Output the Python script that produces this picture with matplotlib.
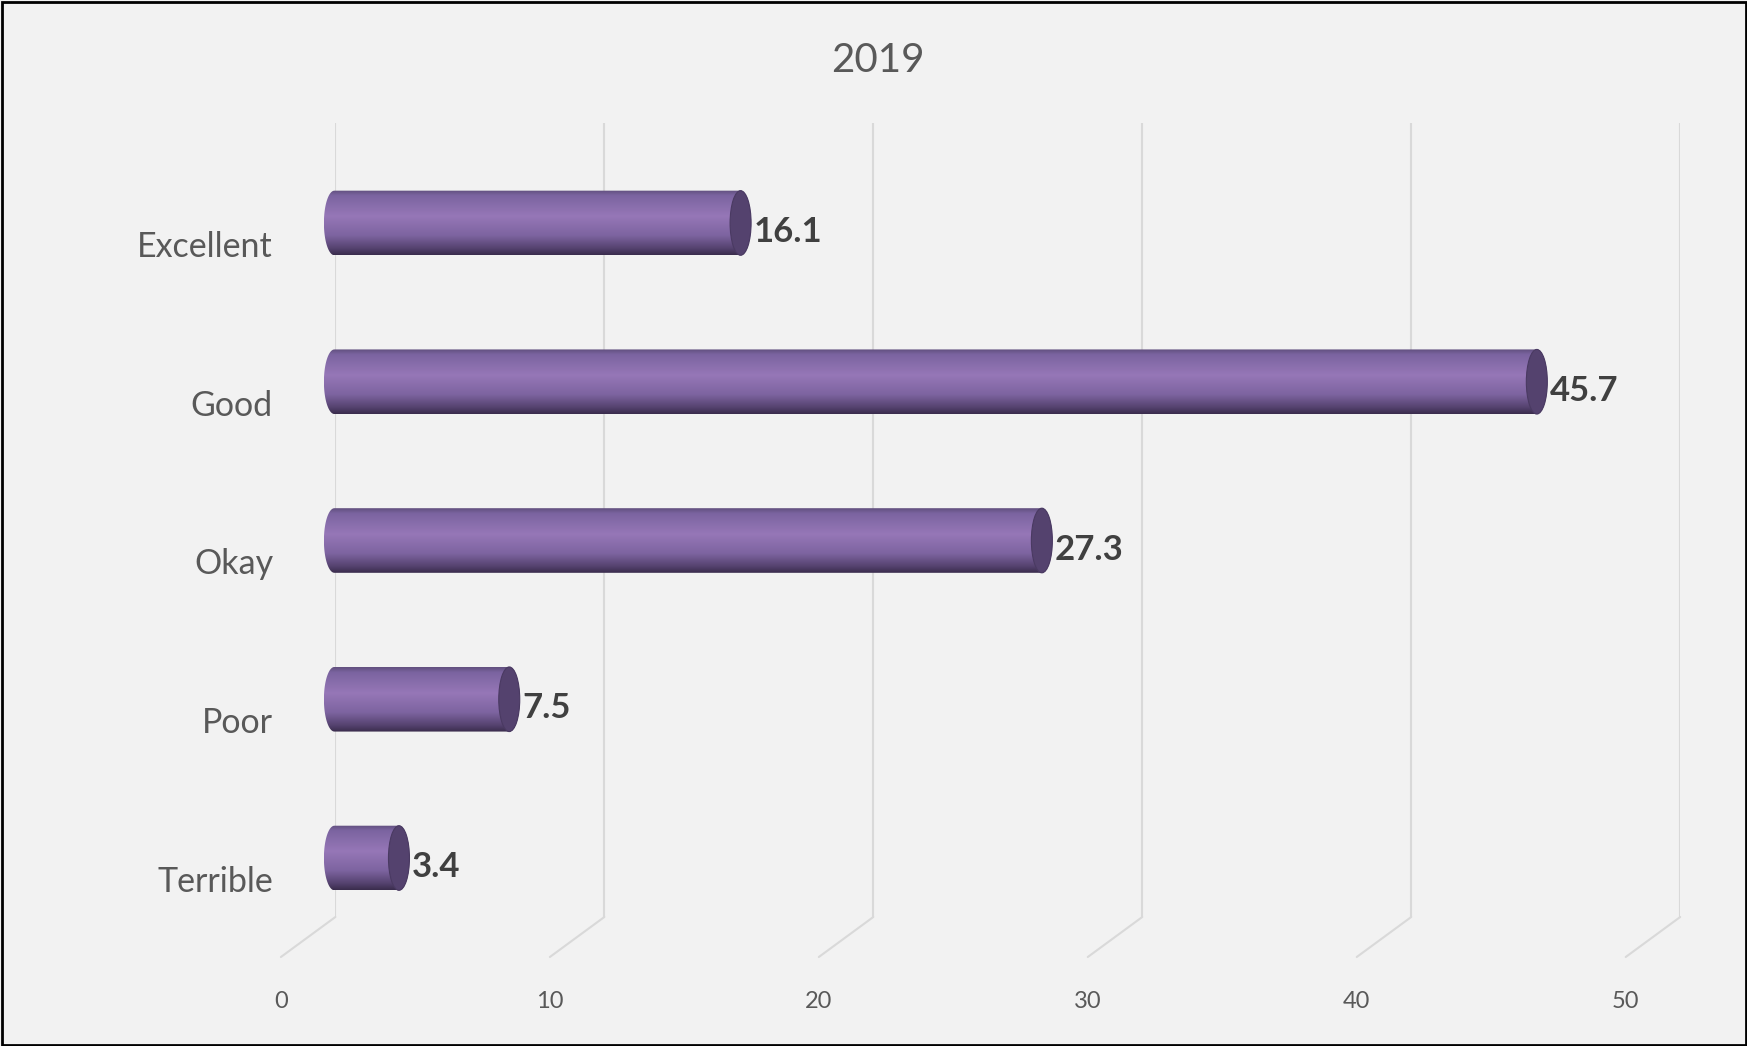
import matplotlib.pyplot as plt
import numpy as np
from matplotlib.path import Path
from matplotlib.patches import PathPatch, Ellipse, Rectangle
from matplotlib.colors import LinearSegmentedColormap

categories = ["Excellent", "Good", "Okay", "Poor", "Terrible"]
values = [16.1, 45.7, 27.3, 7.5, 3.4]
ticks = [0, 10, 20, 30, 40, 50]
title = "2019"

W, H = 1747, 1046
DPI = 100
PT = DPI / 72.0  # pixels per point

plt.rcParams['font.family'] = ['Lato', 'DejaVu Sans']

fig = plt.figure(figsize=(W / DPI, H / DPI), dpi=DPI, facecolor='#f2f2f2')

def rect(x0, y0, x1, y1):
    # pixel box (top-left origin) -> figure fraction
    return [x0 / W, 1 - y1 / H, (x1 - x0) / W, (y1 - y0) / H]

# back wall with the vertical gridlines
ax_back = fig.add_axes(rect(335.4, 122.6, 1680.2, 917))
ax_back.set_xlim(0, 50)
ax_back.set_ylim(0, 1)
ax_back.axis('off')
grid_col = '#d9d9d9'
for t in ticks:
    ax_back.axvline(t, color=grid_col, lw=1.5)
    # floor line going forward from the wall
    ax_back.annotate('', xy=(t, 0), xytext=(-54.5 / PT, -40 / PT),
                     textcoords='offset points',
                     arrowprops=dict(arrowstyle='-', color=grid_col, lw=1.5,
                                     shrinkA=0, shrinkB=0))
    ax_back.annotate(str(t), xy=(t, 0), xytext=(-54.5 / PT, -85 / PT),
                     textcoords='offset points', ha='center', va='center',
                     fontsize=17, color='#595959', annotation_clip=False)

# bars, drawn in front of the wall
ax = fig.add_axes(rect(307.5, 143.6, 307.5 + 50 * 26.9, 937.4))
ax.set_xlim(0, 50)
ax.set_ylim(len(categories) - 0.5, -0.5)
ax.axis('off')
ax.patch.set_alpha(0)

bar_h = 0.407
wall = 1.0           # where the cylinders come out of the left wall
rx = 10.5 / 26.9     # horizontal radius of the end caps

cyl = LinearSegmentedColormap.from_list('cyl', [
    (0.00, '#62507f'), (0.08, '#7b64a0'), (0.40, '#9677b7'),
    (0.70, '#7d64a0'), (0.90, '#55426f'), (1.00, '#3a2d4d')])
grad = np.linspace(0, 1, 200).reshape(-1, 1)

for i, (cat, v) in enumerate(zip(categories, values)):
    top, bot = i - bar_h / 2, i + bar_h / 2
    th_l = np.linspace(np.pi / 2, 3 * np.pi / 2, 40)
    th_r = np.linspace(-np.pi / 2, np.pi / 2, 40)
    left = np.column_stack([wall + rx * np.cos(th_l), i - (bar_h / 2) * np.sin(th_l)])
    right = np.column_stack([v + rx * np.cos(th_r), i - (bar_h / 2) * np.sin(th_r)])
    verts = np.vstack([left, right, left[:1]])
    codes = [Path.MOVETO] + [Path.LINETO] * (len(verts) - 2) + [Path.CLOSEPOLY]
    body = PathPatch(Path(verts, codes), facecolor='none', edgecolor='none')
    ax.add_patch(body)
    im = ax.imshow(grad, cmap=cyl, aspect='auto', interpolation='bilinear',
                   extent=[wall - rx, v + rx, bot, top], zorder=2)
    im.set_clip_path(body)
    ax.add_patch(Ellipse((v, i), 2 * rx, bar_h, facecolor='#54426e',
                         edgecolor='#4a3a62', lw=0.8, zorder=3))

    ax.annotate(f"{v}", xy=(v, i), xytext=(13 / PT, -9 / PT),
                textcoords='offset points', ha='left', va='center',
                fontsize=25, fontweight='bold', color='#404040', zorder=4)
    ax.annotate(cat, xy=(0, i), xycoords=('axes fraction', 'data'),
                xytext=(-34.5 / PT, -24 / PT), textcoords='offset points',
                ha='right', va='center', fontsize=24.5, color='#595959')

fig.text(878 / W, 1 - 60 / H, title, ha='center', va='center',
         fontsize=29, color='#595959')

fig.patches.append(Rectangle((1.5 / W, 1.5 / H), 1 - 3 / W, 1 - 3 / H,
                             transform=fig.transFigure, fill=False,
                             edgecolor='black', lw=2))

fig.savefig('out.png', dpi=DPI, facecolor=fig.get_facecolor())
